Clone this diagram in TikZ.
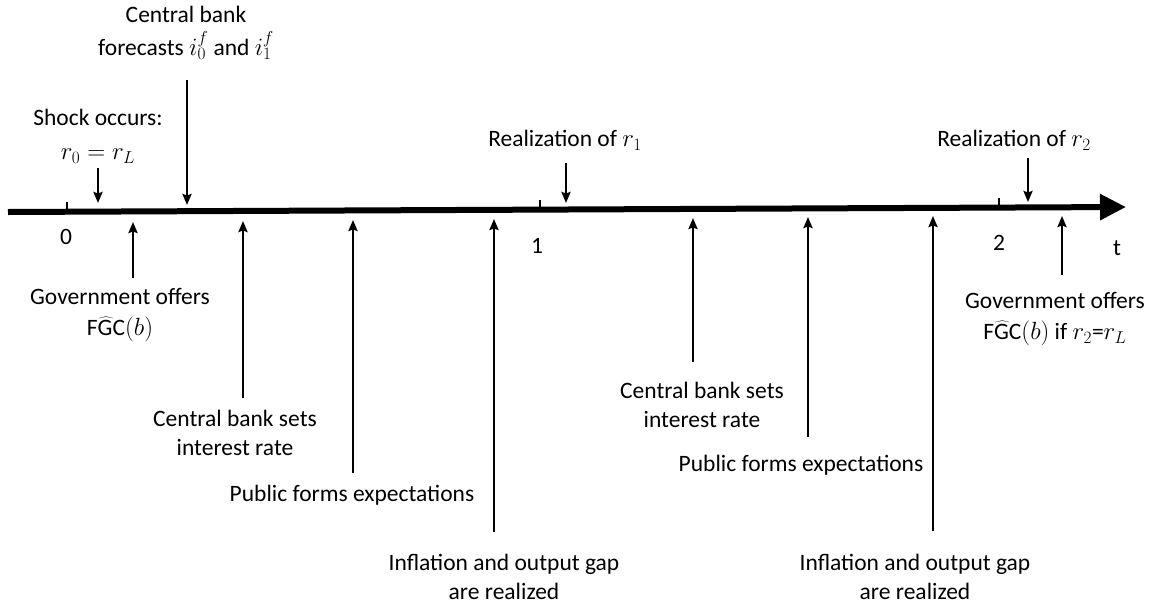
\documentclass[tikz,border=0pt]{standalone}
\usepackage{fontspec}
\setmainfont{Carlito}
\usetikzlibrary{arrows.meta}
\begin{document}
\begin{tikzpicture}[x=1pt,y=-1pt,
  lbl/.style={align=center,inner sep=0pt,font=\fontsize{23.5}{28.5}\selectfont},
  evt/.style={line width=2.3pt,-{Stealth[length=11pt,width=9pt,inset=1.5pt]}},
  tick/.style={line width=2pt}]
\useasboundingbox (0,0) rectangle (1156,611);
% axis
\coordinate (aL) at (8,212);
\coordinate (aR) at (1126,207);
\draw[line width=6pt,-{Triangle[length=26pt,width=25pt]}] (aL) -- (aR);
% ticks
\draw[tick] (67,211) -- (67,202);
\draw[tick] (540,209) -- (540,200);
\draw[tick] (999,207) -- (999,198);
\node[lbl] (n0) at (66,237) {0};
\node[lbl] (n1) at (537,246) {1};
\node[lbl] (n2) at (999,243) {2};
\node[lbl] (nt) at (1117,248) {t};
% top labels
\node[lbl] (cbf) at (186,33) {Central bank\\[4pt]forecasts $i_0^f$ and $i_1^f$};
\node[lbl] (shock) at (98,136) {Shock occurs:\\[6pt]$r_0=r_L$};
\node[lbl] (r1) at (565,140) {Realization of $r_1$};
\node[lbl] (r2) at (1014,140) {Realization of $r_2$};
% bottom labels
\node[lbl] (gov1) at (120,315) {Government offers\\[3pt]$\widehat{\mathrm{FGC}}(b)$};
\node[lbl] (cbs1) at (235,433) {Central bank sets\\interest rate};
\node[lbl] (pub1) at (352,495) {Public forms expectations};
\node[lbl] (inf1) at (504,577) {Inflation and output gap\\are realized};
\node[lbl] (cbs2) at (702,405) {Central bank sets\\interest rate};
\node[lbl] (pub2) at (801,465) {Public forms expectations};
\node[lbl] (inf2) at (915,577) {Inflation and output gap\\are realized};
\node[lbl] (gov2) at (1055,319) {Government offers\\[3pt]$\widehat{\mathrm{FGC}}(b)$ if $r_2$=$r_L$};
% down arrows
\coordinate (d1s) at (98,168);  \coordinate (d1e) at (98,203);
\coordinate (d2s) at (187,80);  \coordinate (d2e) at (187,205);
\coordinate (d3s) at (566,163); \coordinate (d3e) at (566,203);
\coordinate (d4s) at (1028,158);\coordinate (d4e) at (1028,202);
\draw[evt] (d1s) -- (d1e);
\draw[evt] (d2s) -- (d2e);
\draw[evt] (d3s) -- (d3e);
\draw[evt] (d4s) -- (d4e);
% up arrows
\coordinate (u1s) at (133,278); \coordinate (u1e) at (133,222);
\coordinate (u2s) at (243,398); \coordinate (u2e) at (243,221);
\coordinate (u3s) at (353,473); \coordinate (u3e) at (353,220);
\coordinate (u4s) at (494,532); \coordinate (u4e) at (494,219);
\coordinate (u5s) at (693,362); \coordinate (u5e) at (693,218);
\coordinate (u6s) at (808,437); \coordinate (u6e) at (808,217);
\coordinate (u7s) at (933,531); \coordinate (u7e) at (933,216);
\coordinate (u8s) at (1062,275);\coordinate (u8e) at (1062,216);
\foreach \i in {1,...,8} {\draw[evt] (u\i s) -- (u\i e);}
\end{tikzpicture}
\end{document}
